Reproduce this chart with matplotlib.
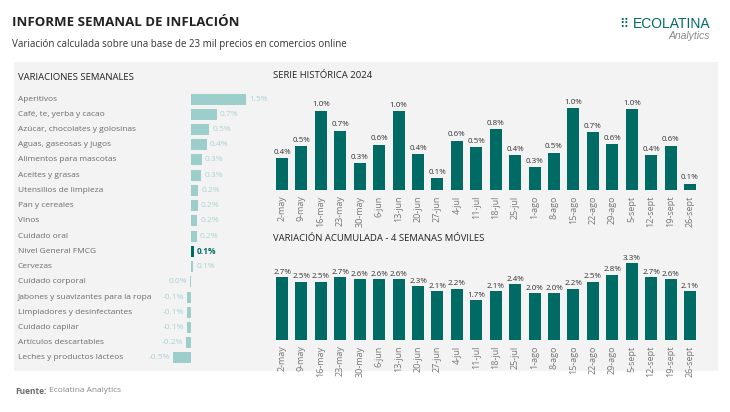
import matplotlib.pyplot as plt
from matplotlib.patches import Rectangle
from matplotlib.transforms import blended_transform_factory

plt.rcParams['font.family'] = ['Open Sans', 'DejaVu Sans']

# Weekly variations by category
categories = ["Aperitivos", "Café, te, yerba y cacao", "Azúcar, chocolates y golosinas",
              "Aguas, gaseosas y jugos", "Alimentos para mascotas", "Aceites y grasas",
              "Utensilios de limpieza", "Pan y cereales", "Vinos", "Cuidado oral",
              "Nivel General FMCG", "Cervezas", "Cuidado corporal",
              "Jabones y suavizantes para la ropa", "Limpiadores y desinfectantes",
              "Cuidado capilar", "Artículos descartables", "Leches y productos lácteos"]
cat_widths = [1.5, 0.7, 0.5, 0.43, 0.3, 0.28, 0.2, 0.18, 0.17, 0.16, 0.07, 0.06,
              -0.02, -0.1, -0.1, -0.1, -0.15, -0.5]
cat_labels = ["1.5%", "0.7%", "0.5%", "0.4%", "0.3%", "0.3%", "0.2%", "0.2%", "0.2%",
              "0.2%", "0.1%", "0.1%", "0.0%", "-0.1%", "-0.1%", "-0.1%", "-0.2%", "-0.5%"]

# Weekly series 2024
weeks = ["2-may", "9-may", "16-may", "23-may", "30-may", "6-jun", "13-jun", "20-jun",
         "27-jun", "4-jul", "11-jul", "18-jul", "25-jul", "1-ago", "8-ago", "15-ago",
         "22-ago", "29-ago", "5-sept", "12-sept", "19-sept", "26-sept"]
weekly = [0.40, 0.55, 1.00, 0.75, 0.34, 0.57, 0.99, 0.45, 0.15, 0.62, 0.54, 0.77,
          0.44, 0.29, 0.47, 1.03, 0.73, 0.58, 1.02, 0.44, 0.56, 0.08]
weekly_labels = ["0.4%", "0.5%", "1.0%", "0.7%", "0.3%", "0.6%", "1.0%", "0.4%", "0.1%",
                 "0.6%", "0.5%", "0.8%", "0.4%", "0.3%", "0.5%", "1.0%", "0.7%", "0.6%",
                 "1.0%", "0.4%", "0.6%", "0.1%"]

# Accumulated 4 weeks
accum = [2.7, 2.5, 2.5, 2.7, 2.6, 2.6, 2.6, 2.3, 2.1, 2.2, 1.7, 2.1,
         2.4, 2.0, 2.0, 2.2, 2.5, 2.8, 3.3, 2.7, 2.6, 2.1]

DARK = "#006b64"
LIGHT = "#9ccfcb"
LIGHT_TXT = "#a9d4d1"
GRAY = "#6b6b6b"
W, H = 730, 412

fig = plt.figure(figsize=(W / 100, H / 100), dpi=100)
fig.patch.set_facecolor("white")


def px_axes(x0, y0, x1, y1):
    # pixel box (top-left origin) -> figure axes
    return fig.add_axes([x0 / W, 1 - y1 / H, (x1 - x0) / W, (y1 - y0) / H])


def fx(x):
    return x / W


def fy(y):
    return 1 - y / H


# panel background
fig.patches.append(Rectangle((fx(14), fy(371)), fx(718) - fx(14), fy(62) - fy(371),
                             transform=fig.transFigure, facecolor="#f3f3f3",
                             edgecolor="none", zorder=-10))

# header
fig.text(fx(12), fy(22), "INFORME SEMANAL DE INFLACIÓN", fontsize=9.5,
         fontweight="bold", color="#222222", va="center")
fig.text(fx(12), fy(44), "Variación calculada sobre una base de 23 mil precios en comercios online",
         fontsize=7, color="#333333", va="center")
fig.text(fx(710), fy(24), "ECOLATINA", fontsize=10, color=DARK, ha="right",
         va="center", family=["Liberation Sans", "DejaVu Sans"])
fig.text(fx(628), fy(24), "⠿", fontsize=9, color=DARK, ha="right", va="center",
         family=["DejaVu Sans"])
fig.text(fx(710), fy(36), "Analytics", fontsize=7.5, color="#888888", ha="right",
         va="center", style="italic", family=["Liberation Sans", "DejaVu Sans"])
fig.text(fx(15), fy(391), "Fuente:", fontsize=6, fontweight="bold", color=GRAY, va="center")
fig.text(fx(49), fy(391), "Ecolatina Analytics", fontsize=6, color="#888888", va="center")

# section titles
fig.text(fx(18), fy(77), "VARIACIONES SEMANALES", fontsize=6.8, color="#222222", va="center")
fig.text(fx(273), fy(76), "SERIE HISTÓRICA 2024", fontsize=6.8, color="#222222", va="center")
fig.text(fx(273), fy(239), "VARIACIÓN ACUMULADA - 4 SEMANAS MÓVILES", fontsize=6.8,
         color="#222222", va="center")

# left: horizontal bars
axl = px_axes(160, 91.4, 265, 365.6)
axl.set_facecolor("none")
n = len(categories)
ys = list(range(n))
colors = [DARK if c == "Nivel General FMCG" else LIGHT for c in categories]
axl.barh(ys, cat_widths, height=0.72, color=colors)
axl.set_xlim(-0.845, 2.015)
axl.set_ylim(n - 0.5, -0.5)
axl.axis("off")
trans = blended_transform_factory(fig.transFigure, axl.transData)
for i, (c, v, lab) in enumerate(zip(categories, cat_widths, cat_labels)):
    axl.text(fx(18), i, c, transform=trans, fontsize=6, color=GRAY, va="center", ha="left")
    general = c == "Nivel General FMCG"
    col = DARK if general else LIGHT_TXT
    wt = "bold" if general else "normal"
    if v >= 0:
        axl.text(v + 0.08, i, lab, fontsize=6, color=col, va="center", ha="left", fontweight=wt)
    else:
        axl.text(v - 0.08, i, lab, fontsize=6, color=col, va="center", ha="right", fontweight=wt)

# top right: weekly series
x = list(range(len(weeks)))
ax1 = px_axes(272.3, 98, 699.7, 190)
ax1.set_facecolor("none")
ax1.bar(x, weekly, width=0.62, color=DARK)
ax1.set_xlim(-0.5, len(weeks) - 0.5)
ax1.set_ylim(0, 1.16)
for xi, v, lab in zip(x, weekly, weekly_labels):
    ax1.text(xi, v + 0.03, lab, ha="center", va="bottom", fontsize=5.8, color="#333333")

# bottom right: accumulated
ax2 = px_axes(272.3, 255, 699.7, 340)
ax2.set_facecolor("none")
ax2.bar(x, accum, width=0.62, color=DARK)
ax2.set_xlim(-0.5, len(weeks) - 0.5)
ax2.set_ylim(0, 3.65)
for xi, v in zip(x, accum):
    ax2.text(xi, v + 0.06, f"{v:.1f}%", ha="center", va="bottom", fontsize=5.8, color="#333333")

for ax in (ax1, ax2):
    for s in ax.spines.values():
        s.set_visible(False)
    ax.set_yticks([])
    ax.set_xticks(x)
    ax.set_xticklabels(weeks, rotation=90, fontsize=6.5, color="#777777")
    ax.tick_params(axis="x", length=0, pad=4)

fig.savefig("out.png", dpi=100, facecolor="white")
